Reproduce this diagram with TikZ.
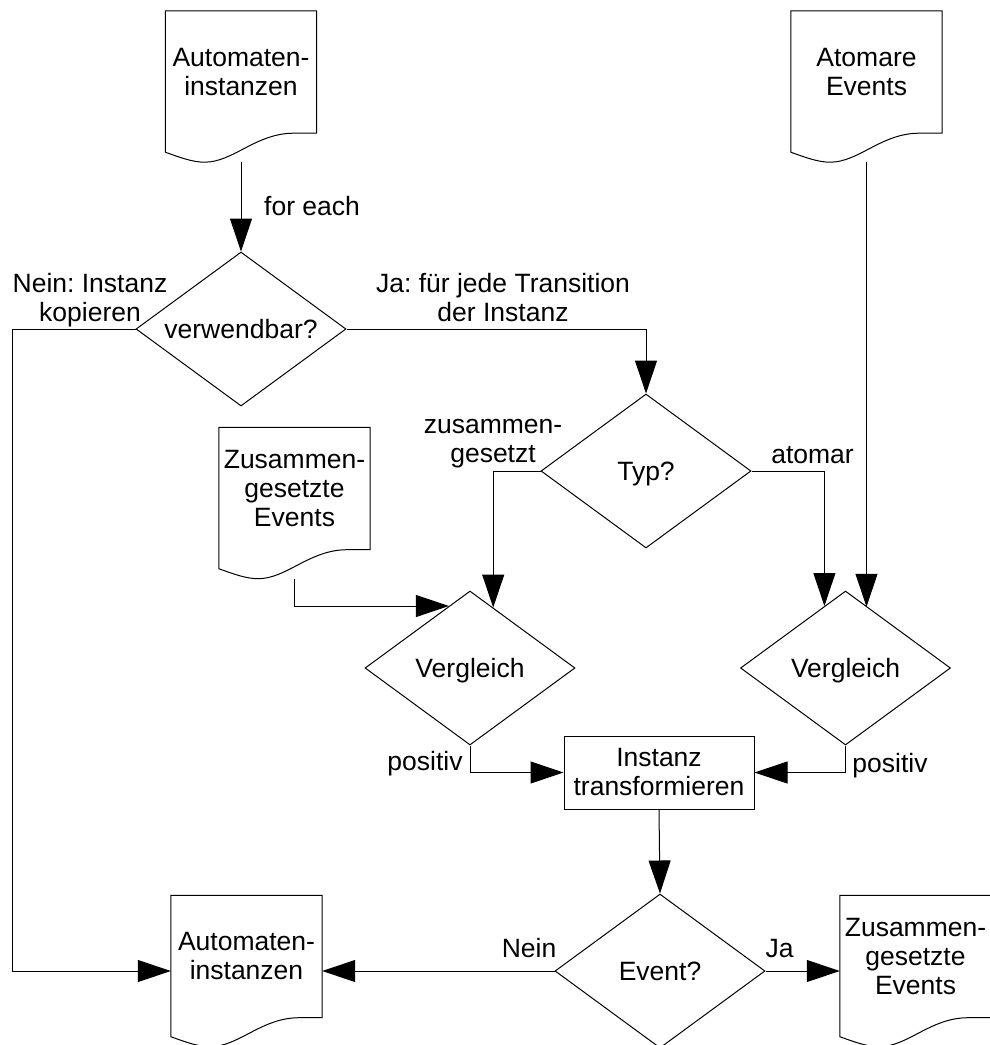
\documentclass[tikz,border=0pt]{standalone}
\usepackage{fontspec}
\setmainfont{Liberation Sans}
\frenchspacing
\usetikzlibrary{shapes.geometric,arrows.meta,calc}

\tikzset{
  every node/.style={font=\fontsize{26.5}{29}\selectfont},
  outline/.style={draw=black, line width=1pt},
  docnode/.style={minimum width=151pt, minimum height=122pt, inner sep=0pt, align=center},
  decision/.style={diamond, draw, line width=1pt, aspect=1.36, minimum width=210pt,
    minimum height=154pt, inner sep=0pt, text height=18pt, text depth=0pt},
  process/.style={rectangle, draw, line width=1pt, minimum width=190pt,
    minimum height=73pt, inner sep=0pt, align=center},
  flow/.style={line width=1pt, -{Triangle[length=33pt,width=22pt]}},
  lbl/.style={inner sep=0pt, align=center},
}

% document symbol: rectangle with a wavy lower edge below the node
\newcommand\docoutline[1]{%
  \draw[outline]
    ($(#1.south west)+(0,19)$) -- (#1.north west) -- (#1.north east) -- (#1.south east)
    -- ($(#1.south west)+(128.4,0)$)
    .. controls ($(#1.south west)+(90.6,0)$) and ($(#1.south west)+(68,29)$)
    .. ($(#1.south west)+(39.3,29)$)
    .. controls ($(#1.south west)+(27,29)$) and ($(#1.south west)+(14,24)$)
    .. ($(#1.south west)+(0,19)$) -- cycle;}

\begin{document}
\begin{tikzpicture}[x=1pt, y=-1pt]
  \fill[white] (0,0) rectangle (990,1045);
  \useasboundingbox (0,0) rectangle (990,1045);
  \clip (0,0) rectangle (990,1045);

  % data
  \node[docnode] (au) at (241,72) {Automaten-\\instanzen};
  \node[docnode] (ae) at (866.5,72) {Atomare\\Events};
  \node[docnode] (ze) at (294.5,488.5) {Zusammen-\\gesetzte\\Events};
  \node[docnode] (ad) at (246.5,956.5) {Automaten-\\instanzen};
  \node[docnode] (zb) at (915.5,956.5) {Zusammen-\\gesetzte\\Events};
  \docoutline{au}
  \docoutline{ae}
  \docoutline{ze}
  \docoutline{ad}
  \docoutline{zb}

  % decisions and process
  \node[decision] (vw) at (241,329) {verwendbar?};
  \node[decision] (typ) at (646,471) {Typ?};
  \node[decision] (vl) at (470,668) {Vergleich};
  \node[decision] (vr) at (845.5,668) {Vergleich};
  \node[process] (it) at (659,772.5) {Instanz\\transformieren};
  \node[decision] (ev) at (660,971) {Event?};

  % helper points
  \coordinate (au-t) at ($(au.south)+(0,29)$);
  \coordinate (ae-t) at ($(ae.south)+(0,29)$);
  \coordinate (ze-t) at ($(ze.south)+(0,29)$);
  \coordinate (lft) at (12,329);
  \coordinate (vr-in) at ($(vr.north)!0.21!(vr.east)$);

  % connectors
  \draw[flow] (au-t) -- (vw.north);
  \draw[flow] (vw.east) -| (typ.north);
  \draw[flow] (vw.west) -- (lft) |- (ev.west -| ad.west);
  \draw[flow] (typ.west) -| ($(vl.north)!0.22!(vl.east)$);
  \draw[flow] (typ.east) -| ($(vr.north)!0.2!(vr.west)$);
  \draw[flow] (ae-t) -- (ae-t |- vr-in);
  \draw[flow] (ze-t) |- ($(vl.north)!0.2!(vl.west)$);
  \draw[flow] (vl.south) |- (it.west);
  \draw[flow] (vr.south) |- (it.east);
  \draw[flow] (it.south) -- (ev.north);
  \draw[flow] (ev.west) -- (ev.west -| ad.east);
  \draw[flow] (ev.east) -- (ev.east -| zb.west);

  % connector labels
  \node[lbl, anchor=base west] (l-fe) at (264,215) {for each};
  \node[lbl] (l-ja) at (503,297.5) {Ja: für jede Transition\\der Instanz};
  \node[lbl] (l-nein) at (90,300) {Nein: Instanz\\kopieren};
  \node[lbl] (l-zus) at (493,443.5) {zusammen-\\gesetzt};
  \node[lbl, anchor=base] (l-at) at (812.5,463) {atomar};
  \node[lbl, anchor=base] (l-p1) at (425,770) {positiv};
  \node[lbl, anchor=base] (l-p2) at (890,772) {positiv};
  \node[lbl, anchor=base] (l-n2) at (529,957) {Nein};
  \node[lbl, anchor=base] (l-j2) at (779.5,957) {Ja};
\end{tikzpicture}
\end{document}
